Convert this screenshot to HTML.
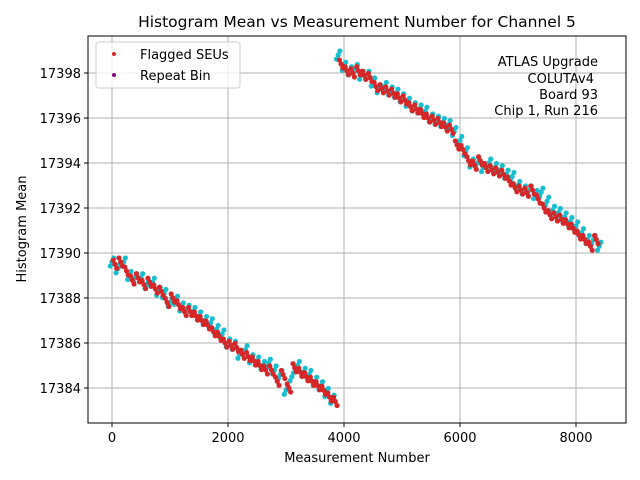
<!DOCTYPE html>
<html><head><meta charset="utf-8"><style>
body{margin:0;background:#fff;}
svg{display:block;font-family:"DejaVu Sans","Liberation Sans",sans-serif;}
</style></head><body>
<svg id="chart" width="640" height="480">
<rect width="640" height="480" fill="#fff"/>
<text x="357" y="27" text-anchor="middle" font-size="15.5">Histogram Mean vs Measurement Number for Channel 5</text>
<g id="grid"></g>
<g id="marks"></g>
<rect x="88" y="36" width="538" height="387" fill="none" stroke="#000" stroke-width="1"/>
<g id="ticks"></g>
<text x="357" y="462" text-anchor="middle" font-size="13">Measurement Number</text>
<text transform="translate(26,229) rotate(-90)" text-anchor="middle" font-size="13">Histogram Mean</text>
<g>
<rect x="96" y="42" width="144" height="46" rx="3" fill="#fff" fill-opacity="0.8" stroke="#ccc"/>
<g><circle cx="114" cy="54" r="2" fill="#d62728"/><text x="140" y="59" font-size="13">Flagged SEUs</text></g>
<g><circle cx="114" cy="75" r="2" fill="#800080"/><text x="140" y="80" font-size="13">Repeat Bin</text></g>
</g>
<g font-size="13" text-anchor="end">
<text x="598" y="66">ATLAS Upgrade</text>
<text x="594" y="83">COLUTAv4</text>
<text x="598" y="99">Board 93</text>
<text x="598" y="115">Chip 1, Run 216</text>
</g>
</svg>
<script>
const xTicks=[0,2000,4000,6000,8000];
const yTicks=[17384,17386,17388,17390,17392,17394,17396,17398];
const cyanX1Start=0, cyanX2Start=3900, step=100;
const cyanVals=[17389.6,17389.3,17389.6,17389.0,17388.9,17388.9,17388.6,17388.7,17388.3,17388.2,17387.8,17387.9,17387.6,17387.5,17387.4,17387.2,17387.0,17386.9,17386.6,17386.4,17386.0,17385.9,17385.5,17385.7,17385.3,17385.2,17385.0,17385.1,17384.8,17384.6,17383.9,17384.5,17385.0,17384.7,17384.6,17384.3,17384.1,17383.8,17383.5,
17398.8,17398.3,17398.1,17398.2,17397.9,17397.9,17397.6,17397.3,17397.4,17397.2,17397.1,17396.9,17396.7,17396.5,17396.4,17396.3,17396.0,17395.9,17395.8,17395.7,17395.4,17395.0,17394.5,17394.0,17394.0,17393.8,17394.0,17393.8,17393.7,17393.5,17393.4,17393.0,17392.8,17392.8,17392.6,17392.7,17392.3,17391.9,17391.8,17391.6,17391.4,17391.2,17390.9,17390.6,17390.6,17390.3];
const redVals=[17389.5,17389.6,17389.2,17388.8,17388.9,17388.6,17388.7,17388.4,17388.3,17387.8,17388.0,17387.7,17387.4,17387.4,17387.2,17387.0,17386.8,17386.5,17386.3,17386.0,17385.9,17385.8,17385.5,17385.4,17385.2,17385.0,17384.8,17384.8,17384.3,17384.6,17384.0,17384.9,17384.7,17384.5,17384.3,17384.1,17383.9,17383.6,17383.4,
17398.4,17398.1,17398.0,17398.1,17397.9,17397.8,17397.4,17397.3,17397.2,17397.1,17396.9,17396.8,17396.5,17396.4,17396.2,17396.0,17395.9,17395.8,17395.6,17395.5,17394.8,17394.6,17394.1,17393.9,17394.1,17393.8,17393.7,17393.6,17393.5,17393.2,17392.9,17392.8,17392.7,17392.8,17392.4,17392.0,17391.7,17391.6,17391.5,17391.3,17391.1,17390.8,17390.6,17390.3,17390.6];
const spread=[-0.18,0,0.18];
const xs=v=>112+(v/2000)*116;
const ys=v=>388-(v-17384)*22.5;
const NS='http://www.w3.org/2000/svg';
const grid=document.getElementById('grid'),ticks=document.getElementById('ticks'),marks=document.getElementById('marks');
function mk(tag,attrs,parent){const e=document.createElementNS(NS,tag);for(const k in attrs)e.setAttribute(k,attrs[k]);parent.appendChild(e);return e;}
xTicks.forEach(t=>{
  const g=mk('line',{x1:xs(t),x2:xs(t),y1:36,y2:423,stroke:'#b0b0b0','stroke-width':1},grid);
  
  
  mk('line',{x1:xs(t),x2:xs(t),y1:423,y2:427,stroke:'#000'},ticks);
  const tx=mk('text',{x:xs(t),y:442,'text-anchor':'middle','font-size':13},ticks);
  tx.textContent=t;
  
  
});
yTicks.forEach(t=>{
  const g=mk('line',{x1:88,x2:626,y1:ys(t),y2:ys(t),stroke:'#b0b0b0','stroke-width':1},grid);
  
  
  mk('line',{x1:84,x2:88,y1:ys(t),y2:ys(t),stroke:'#000'},ticks);
  const tx=mk('text',{x:81,y:ys(t)+5,'text-anchor':'end','font-size':13},ticks);
  tx.textContent=t;
  
  
});
function xAt(i,off){return i<39?cyanX1Start+i*step+off:cyanX2Start+(i-39)*step+off;}
cyanVals.forEach((v,i)=>{
  spread.forEach((s,k)=>{
    const c=mk('circle',{cx:xs(xAt(i,(k-1)*30)),cy:ys(v+s),r:2.6,fill:'#17becf'},marks);
    
    
  });
});
redVals.forEach((v,i)=>{
  spread.forEach((s,k)=>{
    const c=mk('circle',{cx:xs(xAt(i,50+(1-k)*30)),cy:ys(v+s),r:2.6,fill:'#d62728'},marks);
    
    
  });
});
</script>
</body></html>
